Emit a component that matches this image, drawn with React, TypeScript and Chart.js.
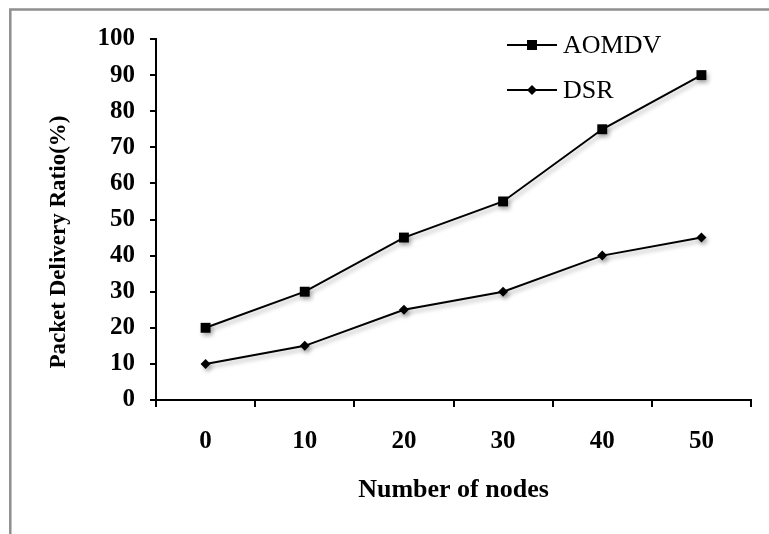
import React, { useEffect, useRef } from "react";
import { Chart, registerables } from "chart.js";

Chart.register(...registerables);

const categories = ["0", "10", "20", "30", "40", "50"];
const aomdvValues = [20, 30, 45, 55, 75, 90];
const dsrValues = [10, 15, 25, 30, 40, 45];
const seriesNames = ["AOMDV", "DSR"];
const xTitle = "Number of nodes";
const yTitle = "Packet Delivery Ratio(%)";

const SERIF = "'Liberation Serif', 'Times New Roman', serif";

const framePlugin = {
  id: "frame",
  beforeDraw(chart: any) {
    const ctx = chart.ctx;
    ctx.save();
    ctx.fillStyle = "#ffffff";
    ctx.fillRect(0, 0, chart.width, chart.height);
    ctx.strokeStyle = "#8f8f8f";
    ctx.lineWidth = 2.5;
    ctx.beginPath();
    ctx.moveTo(10.3, chart.height);
    ctx.lineTo(10.3, 9.5);
    ctx.lineTo(chart.width, 9.5);
    ctx.stroke();
    ctx.restore();
  },
};

const shadowPlugin = {
  id: "lineShadow",
  beforeDatasetsDraw(chart: any) {
    const ctx = chart.ctx;
    ctx.save();
    ctx.shadowColor = "rgba(0,0,0,0.3)";
    ctx.shadowOffsetX = 2;
    ctx.shadowOffsetY = 3;
    ctx.shadowBlur = 4;
  },
  afterDatasetsDraw(chart: any) {
    chart.ctx.restore();
  },
};

const yTitlePlugin = {
  id: "yTitleCustom",
  afterDraw(chart: any) {
    const ctx = chart.ctx;
    ctx.save();
    ctx.translate(59, 242);
    ctx.rotate(-Math.PI / 2);
    ctx.font = `bold 23px ${SERIF}`;
    ctx.fillStyle = "#000";
    ctx.textAlign = "center";
    ctx.textBaseline = "middle";
    ctx.fillText(yTitle, 0, 0);
    ctx.restore();
  },
};

const legendPlugin = {
  id: "customLegend",
  afterDraw(chart: any) {
    const ctx = chart.ctx;
    const rows = [45, 90];
    chart.data.datasets.forEach((ds: any, i: number) => {
      const y = rows[i];
      ctx.save();
      ctx.strokeStyle = "#000";
      ctx.fillStyle = "#000";
      ctx.lineWidth = 2;
      ctx.beginPath();
      ctx.moveTo(507, y);
      ctx.lineTo(557, y);
      ctx.stroke();
      if (ds.pointStyle === "rect") {
        ctx.fillRect(532 - 5, y - 5, 10, 10);
      } else {
        ctx.beginPath();
        ctx.moveTo(532, y - 5);
        ctx.lineTo(537, y);
        ctx.lineTo(532, y + 5);
        ctx.lineTo(527, y);
        ctx.closePath();
        ctx.fill();
      }
      ctx.font = `26px ${SERIF}`;
      ctx.textAlign = "left";
      ctx.textBaseline = "middle";
      ctx.fillText(ds.label, 563, y + 1);
      ctx.restore();
    });
  },
};

export default function App() {
  const ref = useRef<HTMLCanvasElement>(null);

  useEffect(() => {
    if (!ref.current) return;
    const chart = new Chart(ref.current, {
      type: "line",
      data: {
        labels: categories,
        datasets: [
          {
            label: seriesNames[0],
            data: aomdvValues,
            borderColor: "#000",
            backgroundColor: "#000",
            borderWidth: 2,
            pointStyle: "rect",
            pointRadius: 7,
            pointBorderWidth: 0,
            tension: 0,
          },
          {
            label: seriesNames[1],
            data: dsrValues,
            borderColor: "#000",
            backgroundColor: "#000",
            borderWidth: 2,
            pointStyle: "rectRot",
            pointRadius: 5,
            pointBorderWidth: 0,
            tension: 0,
          },
        ],
      },
      plugins: [framePlugin, shadowPlugin, yTitlePlugin, legendPlugin],
      options: {
        responsive: false,
        animation: false,
        devicePixelRatio: 1,
        layout: { padding: { top: 39, right: 18, left: 0, bottom: 0 } },
        plugins: {
          legend: { display: false },
          tooltip: { enabled: false },
        },
        scales: {
          x: {
            type: "category",
            offset: true,
            grid: {
              display: true,
              offset: true,
              drawOnChartArea: false,
              drawTicks: true,
              tickLength: 7,
              color: "#000",
              lineWidth: 2,
            },
            border: { display: true, color: "#000", width: 2 },
            ticks: {
              color: "#000",
              font: { family: SERIF, size: 25, weight: "bold" },
              padding: 20,
              maxRotation: 0,
            },
            title: {
              display: true,
              text: xTitle,
              color: "#000",
              font: { family: SERIF, size: 26, weight: "bold" },
              padding: { top: 0, bottom: 28 },
            },
            afterFit: (s: any) => {
              s.height = 134;
            },
          },
          y: {
            min: 0,
            max: 100,
            grid: {
              display: true,
              drawOnChartArea: false,
              drawTicks: true,
              tickLength: 6,
              color: "#000",
              lineWidth: 2,
            },
            border: { display: true, color: "#000", width: 2 },
            ticks: {
              stepSize: 10,
              color: "#000",
              font: { family: SERIF, size: 25, weight: "bold" },
              padding: 15,
            },
            afterFit: (s: any) => {
              s.width = 156;
            },
          },
        },
      },
    });
    return () => chart.destroy();
  }, []);

  return (
    <div style={{ position: "absolute", left: 0, top: 0, width: 769, height: 534 }}>
      <canvas ref={ref} width={769} height={534} style={{ display: "block" }} />
    </div>
  );
}
